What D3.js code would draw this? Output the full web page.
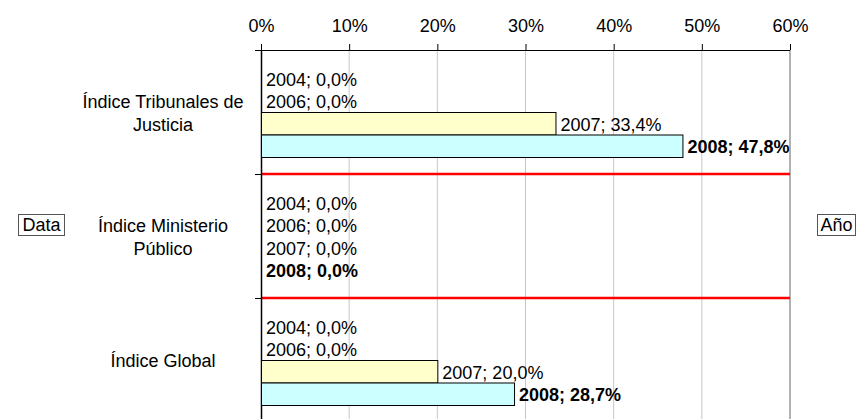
<!DOCTYPE html>
<html>
<head>
<meta charset="utf-8">
<script src="https://cdn.jsdelivr.net/npm/d3@7"></script>
<style>
  body { margin: 0; background: #fff; }
  svg { display: block; font-family: "Liberation Sans", Arial, sans-serif; }
</style>
</head>
<body>
<svg id="chart" width="857" height="419"></svg>
<script>
var categories = ["Índice Tribunales de Justicia", "Índice Ministerio Público", "Índice Global"];
var categoryLines = [["Índice Tribunales de", "Justicia"], ["Índice Ministerio", "Público"], ["Índice Global"]];
var years = ["2004", "2006", "2007", "2008"];
var yearColors = ["#9999FF", "#993366", "#FFFFCC", "#CCFFFF"];
var values2004 = [0.0, 0.0, 0.0];
var values2006 = [0.0, 0.0, 0.0];
var values2007 = [33.4, 0.0, 20.0];
var values2008 = [47.8, 0.0, 28.7];
var tickValues = [0, 10, 20, 30, 40, 50, 60];

(function() {
  var svg = d3.select("#chart");
  var series = [values2004, values2006, values2007, values2008];
  var plot = { left: 261, right: 790, top: 50, bottom: 422 };

  var x = d3.scaleLinear().domain([0, 60]).range([plot.left, plot.right]);
  var y = d3.scaleBand().domain(categories).range([plot.top, plot.bottom]).padding(0);
  var yInner = d3.scaleBand().domain(years).range([0, y.bandwidth()])
    .paddingInner(0).paddingOuter(0.7556);

  var fmt = function(v) { return d3.format(".1f")(v).replace(".", ",") + "%"; };

  // vertical gridlines
  svg.append("g").selectAll("line")
    .data(tickValues.filter(function(d) { return d > 0; }))
    .join("line")
    .attr("x1", function(d) { return x(d); })
    .attr("x2", function(d) { return x(d); })
    .attr("y1", plot.top).attr("y2", 419)
    .attr("stroke", function(d) { return d === 60 ? "#999" : "#c8c8c8"; })
    .attr("stroke-width", function(d) { return d === 60 ? 1.5 : 1; });

  // top axis
  var axis = d3.axisTop(x).tickValues(tickValues).tickSize(6).tickPadding(12)
    .tickFormat(function(d) { return d + "%"; });
  var gx = svg.append("g").attr("transform", "translate(0," + plot.top + ")").call(axis);
  gx.select(".domain").remove();
  gx.append("line").attr("x1", plot.left - 6).attr("x2", plot.right)
    .attr("y1", 0.5).attr("y2", 0.5).attr("stroke", "#000");
  gx.selectAll(".tick line").attr("stroke", "#000");
  gx.selectAll(".tick text").attr("font-size", 18).attr("fill", "#000")
    .attr("font-family", "Liberation Sans, Arial, sans-serif");

  // red separators between categories
  svg.append("g").selectAll("line")
    .data(categories.slice(1))
    .join("line")
    .attr("x1", plot.left).attr("x2", plot.right)
    .attr("y1", function(d) { return y(d); })
    .attr("y2", function(d) { return y(d); })
    .attr("stroke", "#ff0000").attr("stroke-width", 2.5);

  // left axis line + ticks at category boundaries
  svg.append("line").attr("x1", plot.left + 0.5).attr("x2", plot.left + 0.5)
    .attr("y1", plot.top).attr("y2", 419).attr("stroke", "#000").attr("stroke-width", 1.5);
  svg.append("g").selectAll("line")
    .data(categories.slice(1))
    .join("line")
    .attr("x1", plot.left - 6).attr("x2", plot.left)
    .attr("y1", function(d) { return y(d) + 0.5; })
    .attr("y2", function(d) { return y(d) + 0.5; })
    .attr("stroke", "#000");

  // bars
  var rows = [];
  categories.forEach(function(c, i) {
    years.forEach(function(yr, j) {
      rows.push({ cat: c, year: yr, value: series[j][i], color: yearColors[j], bold: yr === "2008" });
    });
  });

  var rowY = function(d) { return y(d.cat) + yInner(d.year); };

  svg.append("g").selectAll("rect")
    .data(rows.filter(function(d) { return d.value > 0; }))
    .join("rect")
    .attr("x", x(0) + 0.5)
    .attr("y", function(d) { return rowY(d) + 0.5; })
    .attr("width", function(d) { return x(d.value) - x(0); })
    .attr("height", yInner.bandwidth())
    .attr("fill", function(d) { return d.color; })
    .attr("stroke", "#000").attr("stroke-width", 1);

  svg.append("g").selectAll("text")
    .data(rows)
    .join("text")
    .attr("x", function(d) { return x(d.value) + 5; })
    .attr("y", function(d) { return rowY(d) + yInner.bandwidth() / 2 + 1; })
    .attr("dy", "0.35em")
    .attr("font-size", 18)
    .attr("font-weight", function(d) { return d.bold ? "bold" : "normal"; })
    .text(function(d) { return d.year + "; " + fmt(d.value); });

  // category labels
  svg.append("g").selectAll("text")
    .data(categories)
    .join("text")
    .attr("text-anchor", "middle")
    .attr("font-size", 18)
    .attr("x", 163)
    .attr("y", function(d) { return y(d) + y.bandwidth() / 2 + 1; })
    .each(function(d, i) {
      var lines = categoryLines[i];
      var t = d3.select(this);
      lines.forEach(function(l, k) {
        t.append("tspan").attr("x", 163)
          .attr("dy", k === 0 ? (0.35 - (lines.length - 1) * 0.64) + "em" : "1.28em")
          .text(l);
      });
    });

  // pivot field buttons
  var buttons = [{ label: "Data", x: 18, w: 46 }, { label: "Año", x: 817, w: 38 }];
  var b = svg.append("g").selectAll("g").data(buttons).join("g");
  b.append("rect")
    .attr("x", function(d) { return d.x + 0.5; }).attr("y", 214.5)
    .attr("width", function(d) { return d.w; }).attr("height", 21)
    .attr("fill", "#fff").attr("stroke", "#555");
  b.append("text")
    .attr("x", function(d) { return d.x + d.w / 2 + 0.5; }).attr("y", 225)
    .attr("dy", "0.35em").attr("text-anchor", "middle").attr("font-size", 18)
    .text(function(d) { return d.label; });
})();
</script>
</body>
</html>
